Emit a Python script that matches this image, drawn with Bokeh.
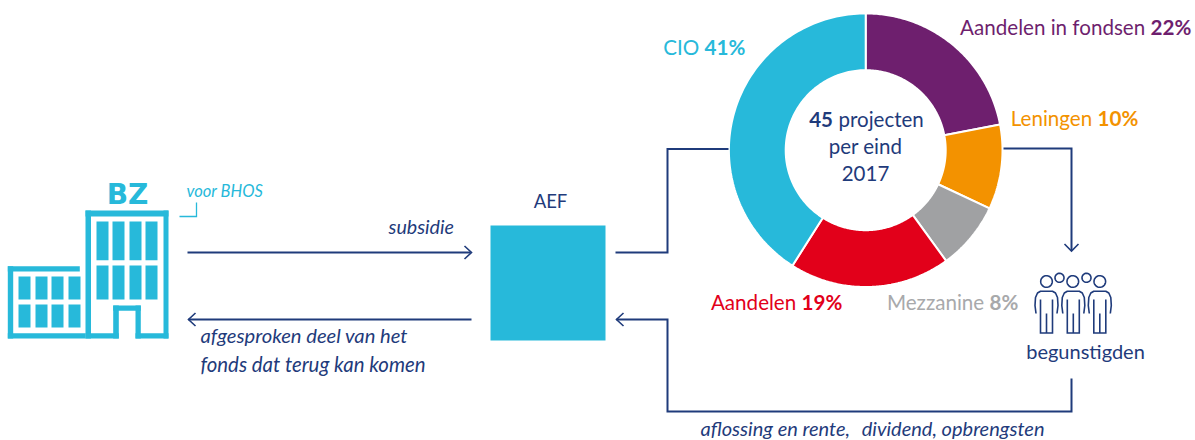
from bokeh.plotting import figure
from bokeh.models import Range1d
from bokeh.core.properties import value
from bokeh.embed import file_html
from bokeh.resources import INLINE
import numpy as np

categories = ["Aandelen in fondsen", "Leningen", "Mezzanine", "Aandelen", "CIO"]
shares = [22, 10, 8, 19, 41]
colors = ["#6E1F6E", "#F39200", "#A0A1A3", "#E2001A", "#27B9DA"]
center_lines = ["projecten", "per eind", "2017"]
projects = 45

NAVY = "#1F3B7B"
CYAN = "#27B9DA"
FONT = "Lato"
W, H = 1195, 440

p = figure(width=W, height=H, x_range=Range1d(0, W), y_range=Range1d(H, 0),
           toolbar_location=None, output_backend="svg", min_border=0)
p.axis.visible = False
p.grid.visible = False
p.outline_line_color = None

def txt(x, y, s, size, color, align="left", style="normal"):
    p.text([x], [y - 0.4 * size], text=[s], text_font=value(FONT), text_font_size=f"{size}px",
           text_color=color, text_align=align, text_baseline="alphabetic", text_font_style=style)

def poly(xs, ys, color=NAVY, w=2):
    p.line(xs, ys, line_color=color, line_width=w, line_join="miter", line_cap="butt")

def box(x0, x1, y0, y1, color=CYAN):
    p.quad(left=[x0], right=[x1], top=[y0], bottom=[y1], fill_color=color, line_color=None)

# ---- donut: angles clockwise from 12 o'clock
cx, cy, r_in, r_out = 865.2, 149.7, 80, 136.8
fr = np.cumsum([0] + shares) / sum(shares)
for i, c in enumerate(colors):
    t = np.linspace(fr[i], fr[i + 1], 120) * 2 * np.pi
    xs = np.r_[cx + r_out * np.sin(t), cx + r_in * np.sin(t[::-1])]
    ys = np.r_[cy - r_out * np.cos(t), cy - r_in * np.cos(t[::-1])]
    p.patch(xs, ys, fill_color=c, line_color="white", line_width=2)

# ---- centre text
txt(832.5, 127, str(projects), 20.5, NAVY, "right", "bold")
txt(838, 127, center_lines[0], 20.5, NAVY)
txt(865, 154, center_lines[1], 20.5, NAVY, "center")
txt(865, 181, center_lines[2], 20.5, NAVY, "center")

# ---- slice labels
def label(xj, y, name, pct, color):
    txt(xj, y, name + " ", 20.6, color, "right")
    txt(xj, y, f"{pct}%", 20.6, color, "left", "bold")

label(1150, 35, categories[0], shares[0], colors[0])
label(1097, 126, categories[1], shares[1], colors[1])
label(989, 310, categories[2], shares[2], "#A8A9AB")
label(801, 310, categories[3], shares[3], colors[3])
label(704, 55, categories[4], shares[4], colors[4])

# ---- building
box(85, 168, 210, 216)
box(85, 90.5, 210, 338)
box(163, 168, 210, 338)
box(85, 118.3, 332.7, 338)
box(135, 168, 332.7, 338)
box(112.7, 118.3, 305, 338)
box(135, 140.3, 305, 338)
box(112.7, 140.3, 305, 310.3)
box(7.3, 79.3, 265.7, 271)
box(7.3, 12.7, 265.7, 338)
box(7.3, 85, 332.7, 338)
for x0 in (96, 112, 129, 145):
    box(x0, x0 + 12, 221, 259.7)
    box(x0, x0 + 12, 265, 299)
for x0 in (18, 35, 51, 68):
    box(x0, x0 + 12, 276, 299)
    box(x0, x0 + 12, 304, 327)
p.text([127], [205 - 11], text=["BZ"], text_font=value("DejaVu Sans"), text_font_size="28px",
       text_color=CYAN, text_align="center", text_baseline="alphabetic", text_font_style="bold")
txt(186, 197.5, "voor BHOS", 16.5, CYAN, style="italic")
poly([179, 196, 196], [216, 216, 202], CYAN, 1.3)

# ---- AEF
box(490, 605, 225, 340)
txt(550, 208, "AEF", 18.5, NAVY, "center")

# ---- arrows
poly([187, 470], [252, 252])
poly([464, 471, 464], [245.5, 252, 258.5], w=1.6)
poly([188, 471], [319, 319])
poly([195, 188, 195], [312.5, 319, 325.5], w=1.6)
txt(388, 234, "subsidie", 19.7, NAVY, style="italic")
txt(200, 343, "afgesproken deel van het", 20.2, NAVY, style="italic")
txt(200, 372, "fonds dat terug kan komen", 20.4, NAVY, style="italic")

poly([615, 667, 667, 728], [252, 252, 148.5, 148.5])
poly([1003, 1071, 1071], [148, 148, 250])
poly([1064, 1071, 1078], [243.5, 250.5, 243.5], w=1.6)
poly([1071, 1071, 667, 667, 616], [378, 411, 411, 319, 319])
poly([623, 616, 623], [312.5, 319, 325.5], w=1.6)
txt(700, 435, "aflossing en rente,", 20, NAVY, style="italic")
txt(1044, 435, "dividend, opbrengsten", 20, NAVY, "right", "italic")

# ---- people icon
for hx, hy, r in [(1046, 281, 5.8), (1059, 277.3, 4.5), (1072.3, 281, 5.8), (1086, 277.3, 4.5), (1099.3, 281, 5.8)]:
    t = np.linspace(0, 2 * np.pi, 40)
    p.line(hx + r * np.cos(t), hy + r * np.sin(t), line_color=NAVY, line_width=1.6)
for bx in (1046, 1072.8, 1099.3):
    sx = np.array([-10.5, -11.5, -11, -9, -6, 6, 9, 11, 11.5, 10.5])
    sy = np.array([313, 305, 297, 292.5, 290.7, 290.7, 292.5, 297, 305, 313])
    p.line(bx + sx, sy, line_color=NAVY, line_width=1.6)
    poly([bx - 6, bx - 6, bx + 6, bx + 6], [299, 332.5, 332.5, 299], w=1.6)
    poly([bx, bx], [313, 332.5], w=1.6)
txt(1085, 358, "begunstigden", 20, NAVY, "center")

open("out.html", "w").write(file_html(p, INLINE))
